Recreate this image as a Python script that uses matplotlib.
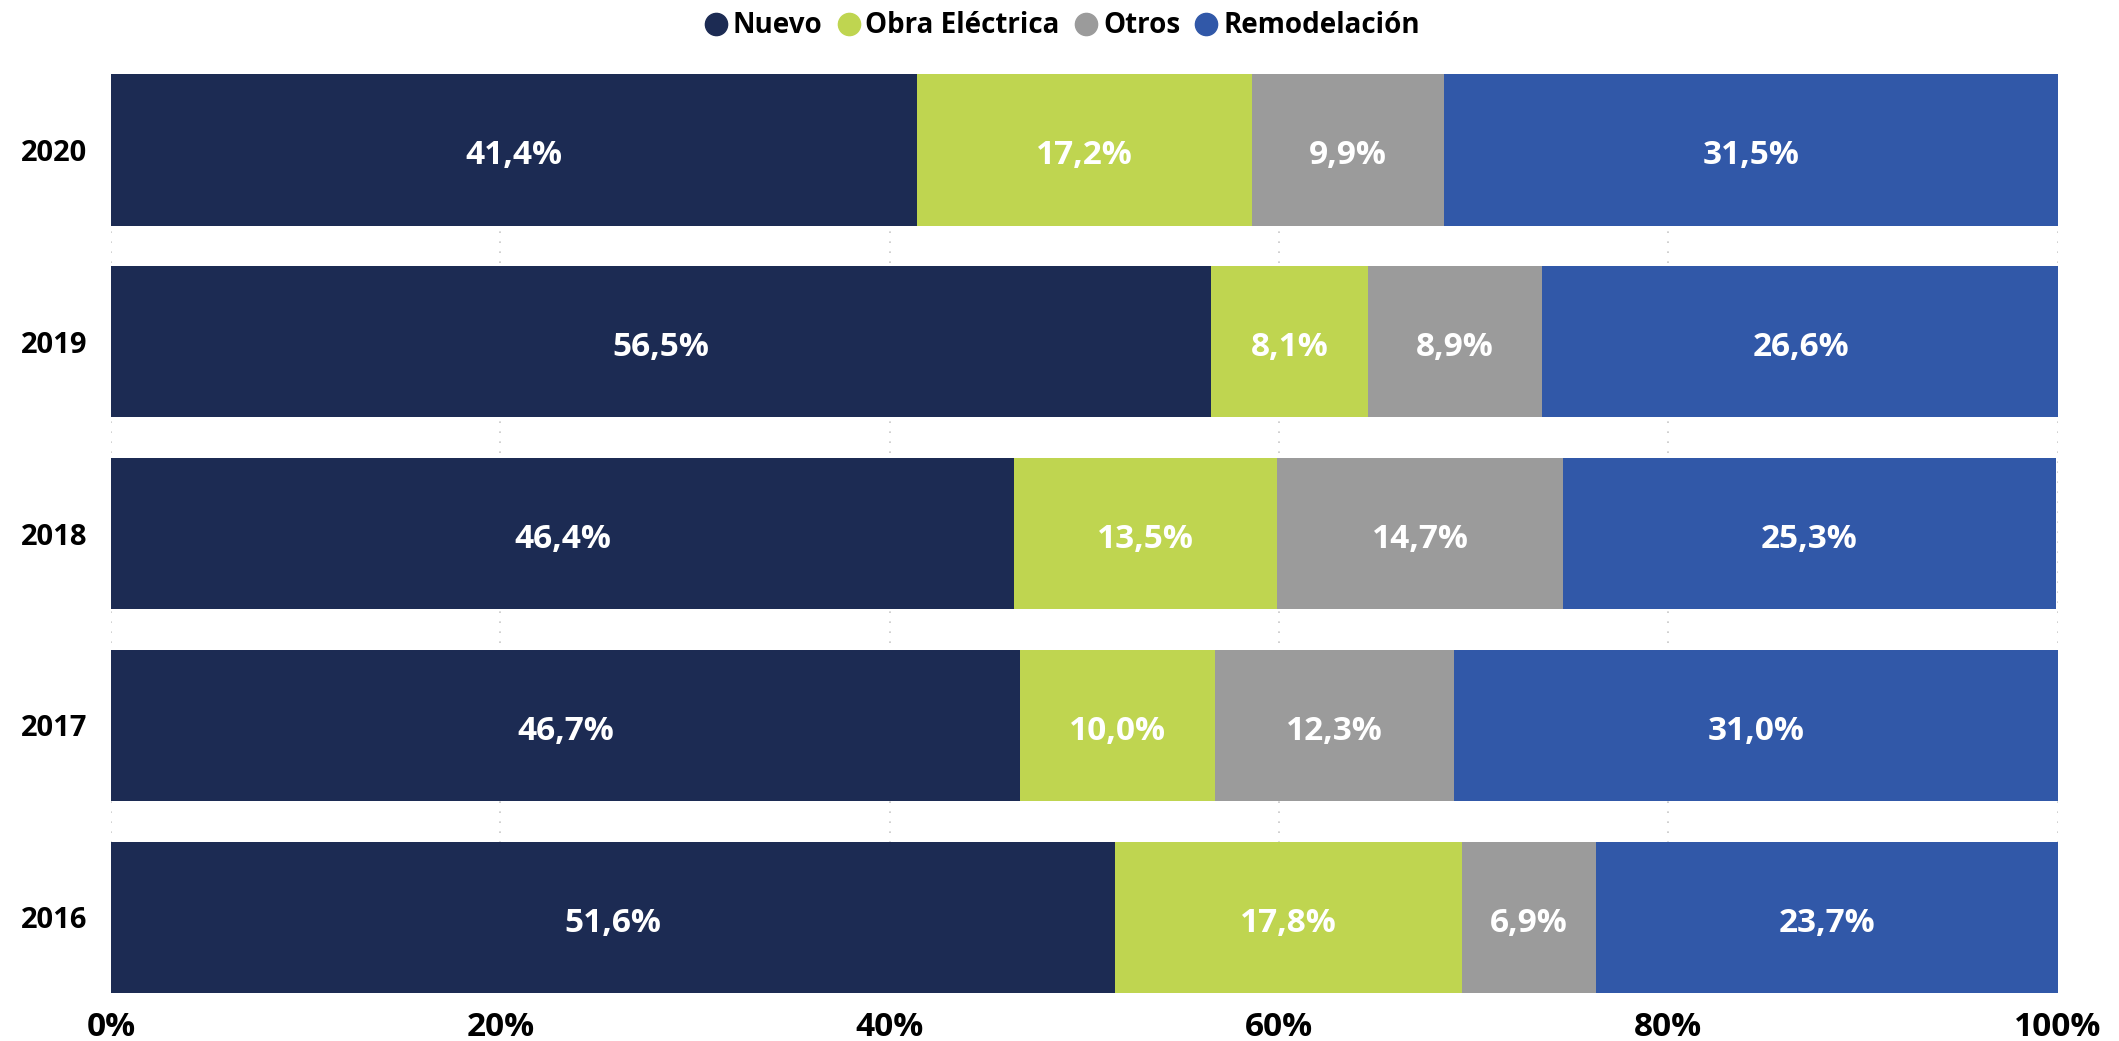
import matplotlib
matplotlib.use("Agg")
import matplotlib.pyplot as plt
from matplotlib.lines import Line2D

# Data (share of projects by type, %)
years = ["2016", "2017", "2018", "2019", "2020"]
categories = ["Nuevo", "Obra Eléctrica", "Otros", "Remodelación"]
nuevo = [51.6, 46.7, 46.4, 56.5, 41.4]
obra_electrica = [17.8, 10.0, 13.5, 8.1, 17.2]
otros = [6.9, 12.3, 14.7, 8.9, 9.9]
remodelacion = [23.7, 31.0, 25.3, 26.6, 31.5]
xticks = [0, 20, 40, 60, 80, 100]

series = [nuevo, obra_electrica, otros, remodelacion]
colors = ['#1c2b53', '#bfd550', '#9b9b9b', '#3158a8']

plt.rcParams['font.family'] = ['Open Sans', 'DejaVu Sans']

fig = plt.figure(figsize=(21.19, 10.41), dpi=100)
ax = fig.add_axes([0.0524, 0.046, 0.9186, 0.883])

ypos = list(range(len(years)))
bar_h = 0.79
left = [0.0] * len(years)
for vals, col in zip(series, colors):
    ax.barh(ypos, vals, left=left, height=bar_h, color=col, zorder=2)
    for y, l, v in zip(ypos, left, vals):
        lbl = f"{v:.1f}%".replace('.', ',')
        # labels sit a touch below the bar centre in the original
        ax.text(l + v / 2, y - 0.03, lbl, ha='center', va='center', color='white',
                fontsize=24, fontweight='bold', zorder=3)
    left = [a + b for a, b in zip(left, vals)]

ax.set_xlim(0, 100)
ax.set_ylim(-bar_h / 2, len(years) - 1 + bar_h / 2)
ax.set_xticks(xticks)
ax.set_xticklabels([f"{t}%" for t in xticks], fontsize=24, fontweight='bold')
ax.set_yticks(ypos)
ax.set_yticklabels(years, fontsize=21, fontweight='bold')
ax.tick_params(length=0)
ax.tick_params(axis='x', pad=13)
ax.tick_params(axis='y', pad=17)
for s in ax.spines.values():
    s.set_visible(False)
ax.grid(axis='x', color='#c8c8c8', linestyle=(0, (1, 5)), linewidth=1.2, zorder=0)
ax.set_axisbelow(True)

handles = [Line2D([], [], marker='o', linestyle='none', markersize=16,
                  markerfacecolor=c, markeredgecolor=c) for c in colors]
fig.legend(handles, categories, loc='upper center', bbox_to_anchor=(0.5, 1.013),
           ncol=4, frameon=False, handletextpad=0.0, columnspacing=0.35,
           handlelength=1.2, prop={'weight': 'bold', 'size': 20})

fig.savefig('out.png', dpi=100, facecolor='white')
